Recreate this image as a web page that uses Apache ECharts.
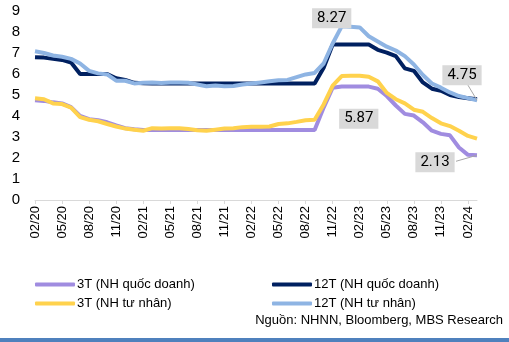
<!DOCTYPE html>
<html>
<head>
<meta charset="utf-8">
<script src="https://cdn.jsdelivr.net/npm/echarts@6/dist/echarts.min.js"></script>
<style>html,body{margin:0;padding:0;background:#fff;}#c{width:509px;height:342px;}</style>
</head>
<body>
<div id="c"></div>
<script>
var categories = ["02/20","03/20","04/20","05/20","06/20","07/20","08/20","09/20","10/20","11/20","12/20",
"01/21","02/21","03/21","04/21","05/21","06/21","07/21","08/21","09/21","10/21","11/21","12/21",
"01/22","02/22","03/22","04/22","05/22","06/22","07/22","08/22","09/22","10/22","11/22","12/22",
"01/23","02/23","03/23","04/23","05/23","06/23","07/23","08/23","09/23","10/23","11/23","12/23",
"01/24","02/24","03/24"];

var seriesNames = ["3T (NH quốc doanh)", "12T (NH quốc doanh)", "3T (NH tư nhân)", "12T (NH tư nhân)"];

var t3State = [4.75,4.72,4.65,4.6,4.42,4.0,3.85,3.8,3.7,3.55,3.42,
3.37,3.33,3.33,3.33,3.33,3.33,3.33,3.33,3.33,3.33,3.33,3.33,
3.33,3.33,3.33,3.33,3.33,3.33,3.33,3.33,3.33,4.4,5.35,5.4,
5.4,5.4,5.4,5.3,4.95,4.5,4.1,4.02,3.7,3.3,3.15,3.08,
2.5,2.15,2.13];

var t12State = [6.8,6.78,6.72,6.67,6.55,6.0,6.0,6.0,6.0,5.8,5.72,
5.58,5.56,5.55,5.55,5.55,5.55,5.55,5.55,5.55,5.55,5.55,5.55,
5.55,5.55,5.55,5.55,5.55,5.55,5.55,5.55,5.55,6.3,7.4,7.4,
7.4,7.4,7.4,7.15,7.02,6.85,6.27,6.15,5.6,5.3,5.2,5.0,
4.9,4.85,4.8];

var t3Private = [4.85,4.8,4.6,4.57,4.4,3.95,3.82,3.75,3.62,3.5,3.4,
3.35,3.3,3.42,3.4,3.42,3.42,3.38,3.32,3.3,3.35,3.4,3.42,
3.47,3.49,3.49,3.5,3.62,3.65,3.72,3.8,3.82,4.55,5.45,5.9,
5.92,5.92,5.87,5.65,5.1,4.8,4.6,4.3,4.2,3.9,3.65,3.52,
3.3,3.05,2.92];

var t12Private = [7.08,7.0,6.88,6.82,6.72,6.5,6.15,6.03,5.98,5.68,5.68,
5.55,5.58,5.6,5.57,5.6,5.6,5.58,5.5,5.42,5.45,5.42,5.43,
5.5,5.55,5.6,5.65,5.7,5.72,5.85,5.98,6.05,6.5,7.45,8.27,
8.25,8.22,7.8,7.55,7.3,7.12,6.85,6.45,5.95,5.55,5.35,5.12,
4.95,4.85,4.75];

var yTicks = [0,1,2,3,4,5,6,7,8,9];
var sourceText = "Nguồn: NHNN, Bloomberg, MBS Research";

var colors = ["#a08ce0", "#002060", "#ffd24d", "#8eb4e3"];

// labelled points: series index -> {dataIndex: [dx, dy, guide start dx, guide start dy]}
var callouts = {
  0: {49: [-42, 7, -21, 6]},
  2: {37: [-10, 42]},
  3: {34: [-10, -8], 49: [-15, -25, -9, -15]}
};

var labelStyle = {
  show: true, position: 'inside', backgroundColor: '#d9d9d9', padding: [3, 5, 2, 5],
  color: '#000', fontFamily: 'Roboto', fontSize: 15,
  formatter: function (p) { return p.value.toFixed(2); }
};

function buildData(values, si) {
  var c = callouts[si] || {};
  return values.map(function (v, i) {
    if (c[i]) return {value: v, label: labelStyle};
    return v;
  });
}

var allValues = [t3State, t12State, t3Private, t12Private];
var series = allValues.map(function (vals, si) {
  return {
    name: seriesNames[si], type: 'line', data: buildData(vals, si),
    showSymbol: true, symbol: 'circle', symbolSize: 0, smooth: false,
    lineStyle: {width: 4, color: colors[si]}, itemStyle: {color: colors[si]},
    label: {show: false}, emphasis: {disabled: true},
    labelLayout: function (p) {
      var c = callouts[si] || {};
      if (c[p.dataIndex]) return {dx: c[p.dataIndex][0], dy: c[p.dataIndex][1]};
      return {};
    },
    z: 2 + si
  };
});

var chart = echarts.init(document.getElementById('c'), null, {renderer: 'canvas'});
chart.setOption({
  animation: false,
  color: colors,
  textStyle: {fontFamily: 'Liberation Sans'},
  grid: {left: 35, right: 32, top: 11, bottom: 142, containLabel: false},
  xAxis: {
    type: 'category', data: categories, boundaryGap: false,
    axisLine: {lineStyle: {color: '#d9d9d9', width: 1}},
    axisTick: {show: true, interval: 2, length: 4, lineStyle: {color: '#d9d9d9'}},
    axisLabel: {interval: 2, rotate: 90, color: '#000', fontSize: 13, margin: 6, fontFamily: 'Liberation Sans'},
    splitLine: {show: false}
  },
  yAxis: {
    type: 'value', min: yTicks[0], max: yTicks[yTicks.length - 1], interval: 1,
    axisLine: {show: false}, axisTick: {show: false}, splitLine: {show: false},
    axisLabel: {color: '#000', fontSize: 15, margin: 15, fontFamily: 'Liberation Sans'}
  },
  legend: [
    {data: [seriesNames[0], seriesNames[2]], orient: 'vertical', left: 30, top: 273, itemWidth: 40, itemHeight: 4,
     icon: 'roundRect', itemGap: 6, textStyle: {fontSize: 13, color: '#000', fontFamily: 'Liberation Sans', padding: [0, 0, 0, -3]}},
    {data: [seriesNames[1], seriesNames[3]], orient: 'vertical', left: 267, top: 273, itemWidth: 40, itemHeight: 4,
     icon: 'roundRect', itemGap: 6, textStyle: {fontSize: 13, color: '#000', fontFamily: 'Liberation Sans', padding: [0, 0, 0, -3]}}
  ],
  series: series
});

// guide lines from callout boxes to their data points, positioned via the chart's own scales
var graphics = [
  {type: 'text', right: 6, top: 314, style: {text: sourceText, fill: '#000', font: '13px "Liberation Sans"'}},
  {type: 'rect', left: 0, top: 338, shape: {width: 509, height: 4}, style: {fill: '#4f81bd'}}
];
Object.keys(callouts).forEach(function (si) {
  var c = callouts[si];
  Object.keys(c).forEach(function (idx) {
    var cfg = c[idx];
    if (cfg.length < 4) return;
    var p = chart.convertToPixel({seriesIndex: +si}, [+idx, allValues[si][idx]]);
    graphics.push({
      type: 'line', z: 100,
      shape: {x1: p[0] + cfg[2], y1: p[1] + cfg[3], x2: p[0], y2: p[1]},
      style: {stroke: '#a6a6a6', lineWidth: 1}
    });
  });
});
chart.setOption({graphic: graphics});
</script>
</body>
</html>
